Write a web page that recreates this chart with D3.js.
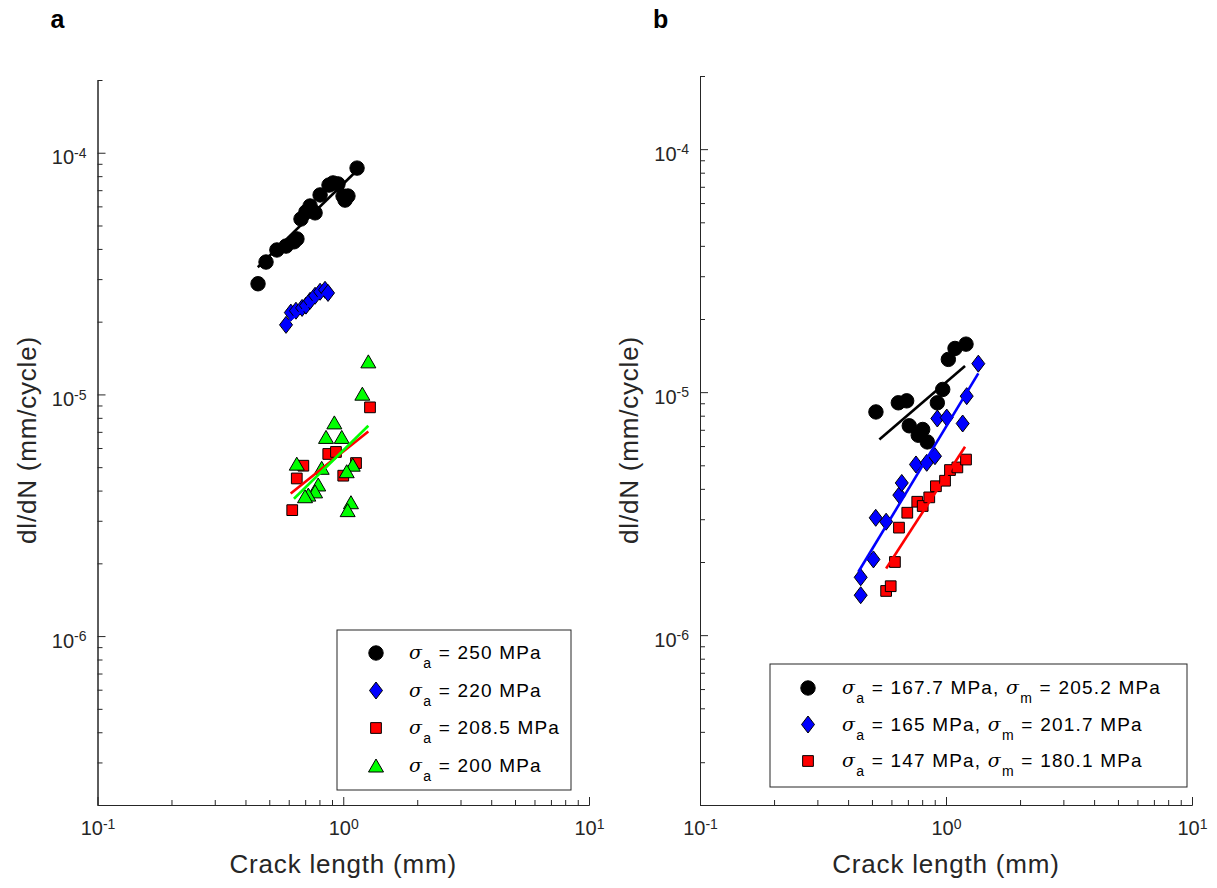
<!DOCTYPE html>
<html lang="en">
<head>
  <meta charset="UTF-8" />
  <title>Crack growth rate vs crack length</title>
  <style>
    body { margin: 0; background: #fff; font-family: "Liberation Sans", Arial, sans-serif; }
    .axis path, .axis line { stroke: #262626; stroke-width: 1; }
    .axis text { fill: #262626; font-size: 20px; font-family: "Liberation Sans", Arial, sans-serif; }
  </style>
</head>
<body>
  <div id="chart"></div>
  <script src="https://d3js.org/d3.v7.min.js"></script>
  <script>
    // ---- panel a data (crack length mm, dl/dN mm/cycle) ----
    var a250X = [0.450, 0.485, 0.537, 0.585, 0.630, 0.648, 0.673, 0.705, 0.733, 0.768, 0.805, 0.875, 0.909, 0.952, 0.998, 1.045, 1.017, 1.138];
    var a250Y = [2.87e-5, 3.53e-5, 3.96e-5, 4.11e-5, 4.28e-5, 4.40e-5, 5.32e-5, 5.69e-5, 6.02e-5, 5.64e-5, 6.69e-5, 7.35e-5, 7.50e-5, 7.43e-5, 6.62e-5, 6.62e-5, 6.37e-5, 8.64e-5];
    var a220X = [0.585, 0.612, 0.642, 0.680, 0.705, 0.733, 0.768, 0.805, 0.843, 0.867];
    var a220Y = [1.94e-5, 2.18e-5, 2.22e-5, 2.28e-5, 2.33e-5, 2.44e-5, 2.56e-5, 2.66e-5, 2.71e-5, 2.63e-5];
    var a208X = [0.620, 0.647, 0.688, 0.869, 0.934, 1.000, 1.127, 1.285];
    var a208Y = [3.32e-6, 4.49e-6, 5.07e-6, 5.67e-6, 5.78e-6, 4.61e-6, 5.20e-6, 8.84e-6];
    var a200X = [1.265, 1.196, 0.920, 0.851, 0.986, 0.647, 0.817, 1.093, 1.033, 0.791, 0.768, 0.721, 0.699, 1.075, 1.042];
    var a200Y = [1.37e-5, 1.007e-5, 7.66e-6, 6.67e-6, 6.67e-6, 5.17e-6, 4.97e-6, 5.12e-6, 4.81e-6, 4.24e-6, 3.97e-6, 3.85e-6, 3.79e-6, 3.58e-6, 3.32e-6];
    // fitted lines, end points
    var aFit250X = [0.449, 1.134], aFit250Y = [3.36e-5, 8.42e-5];
    var aFit220X = [0.595, 0.861], aFit220Y = [2.00e-5, 2.68e-5];
    var aFit208X = [0.611, 1.265], aFit208Y = [3.89e-6, 7.03e-6];
    var aFit200X = [0.630, 1.265], aFit200Y = [3.70e-6, 7.42e-6];

    // ---- panel b data ----
    var b167X = [0.519, 0.640, 0.692, 0.709, 0.804, 0.771, 0.839, 0.922, 0.970, 1.022, 1.088, 1.206];
    var b167Y = [8.29e-6, 9.04e-6, 9.21e-6, 7.27e-6, 7.02e-6, 6.65e-6, 6.24e-6, 9.04e-6, 1.026e-5, 1.364e-5, 1.513e-5, 1.576e-5];
    var b165X = [0.450, 0.450, 0.507, 0.571, 0.518, 0.646, 0.661, 0.755, 0.835, 0.902, 0.922, 1.007, 1.169, 1.214, 1.353];
    var b165Y = [1.46e-6, 1.73e-6, 2.05e-6, 2.93e-6, 3.04e-6, 3.77e-6, 4.23e-6, 5.04e-6, 5.12e-6, 5.45e-6, 7.79e-6, 7.86e-6, 7.43e-6, 9.63e-6, 1.31e-5];
    var b147X = [0.571, 0.596, 0.620, 0.644, 0.696, 0.764, 0.804, 0.855, 0.910, 0.991, 1.038, 1.112, 1.206];
    var b147Y = [1.52e-6, 1.59e-6, 2.00e-6, 2.77e-6, 3.19e-6, 3.54e-6, 3.40e-6, 3.69e-6, 4.10e-6, 4.32e-6, 4.78e-6, 4.90e-6, 5.28e-6];
    var bFit167X = [0.536, 1.195], bFit167Y = [6.39e-6, 1.28e-5];
    var bFit165X = [0.440, 1.353], bFit165Y = [1.82e-6, 1.194e-5];
    var bFit147X = [0.571, 1.195], bFit147Y = [1.88e-6, 5.96e-6];

    // ---- tick labels / legend text ----
    var xMajor = [0.1, 1, 10], xExp = ["-1", "0", "1"];
    var yMajor = [1e-4, 1e-5, 1e-6], yExp = ["-4", "-5", "-6"];
    var legendA = [
      [["σ", "a", " = 250 MPa"]],
      [["σ", "a", " = 220 MPa"]],
      [["σ", "a", " = 208.5 MPa"]],
      [["σ", "a", " = 200 MPa"]]
    ];
    var legendB = [
      [["σ", "a", " = 167.7 MPa, "], ["σ", "m", " = 205.2 MPa"]],
      [["σ", "a", " = 165 MPa, "], ["σ", "m", " = 201.7 MPa"]],
      [["σ", "a", " = 147 MPa, "], ["σ", "m", " = 180.1 MPa"]]
    ];

    var svg = d3.select("#chart").append("svg")
      .attr("width", 1217).attr("height", 888);

    // marker shapes
    function markerPath(type) {
      if (type === "circle") return d3.symbol(d3.symbolCircle, Math.PI * 52)();
      if (type === "square") return d3.symbol(d3.symbolSquare, 115)();
      if (type === "diamond") return "M0,-8.5L6.5,0L0,8.5L-6.5,0Z";
      return "M0,-6.5L7.5,6.5L-7.5,6.5Z"; // triangle
    }
    var styles = {
      black: {type: "circle", fill: "#000", stroke: "#000", line: "#000"},
      blue: {type: "diamond", fill: "#0000ff", stroke: "#000", line: "#0000ff"},
      red: {type: "square", fill: "#ff0000", stroke: "#000", line: "#ff0000"},
      green: {type: "triangle", fill: "#00ff00", stroke: "#000", line: "#00ff00"}
    };

    function zip(xs, ys) { return xs.map(function(v, i) { return [v, ys[i]]; }); }

    function drawPanel(p) {
      var x = d3.scaleLog().domain([0.1, 10]).range(p.xr);
      var y = d3.scaleLog().domain([2e-7, 2e-4]).range(p.yr);
      var g = svg.append("g");

      // minor ticks
      var xMinor = [], yMinor = [];
      [0.1, 1].forEach(function(d) { for (var k = 2; k <= 9; k++) xMinor.push(d * k); });
      [1e-7, 1e-6, 1e-5, 1e-4].forEach(function(d) { for (var k = 2; k <= 9; k++) { var v = d * k; if (v >= 2e-7 && v <= 2e-4) yMinor.push(v); } });

      g.append("g").attr("class", "axis").attr("transform", "translate(0," + p.yr[0] + ")")
        .call(d3.axisBottom(x).tickValues(xMinor).tickSize(-5).tickSizeOuter(0).tickFormat(""));
      var gx = g.append("g").attr("class", "axis").attr("transform", "translate(0," + p.yr[0] + ")")
        .call(d3.axisBottom(x).tickValues(xMajor).tickSize(-8).tickSizeOuter(0).tickPadding(16).tickFormat(""));
      gx.selectAll(".tick text").each(function(d, i) {
        var t = d3.select(this);
        t.append("tspan").text("10");
        t.append("tspan").attr("dy", "-0.45em").attr("font-size", "14px").text(xExp[i]);
      });

      g.append("g").attr("class", "axis").attr("transform", "translate(" + p.xr[0] + ",0)")
        .call(d3.axisLeft(y).tickValues(yMinor).tickSize(-5).tickSizeOuter(0).tickFormat(""));
      var gy = g.append("g").attr("class", "axis").attr("transform", "translate(" + p.xr[0] + ",0)")
        .call(d3.axisLeft(y).tickValues(yMajor).tickSize(-8).tickSizeOuter(0).tickPadding(11).tickFormat(""));
      gy.selectAll(".tick text").attr("dy", "0.55em").each(function(d, i) {
        var t = d3.select(this);
        t.append("tspan").text("10");
        t.append("tspan").attr("dy", "-0.45em").attr("font-size", "14px").text(yExp[i]);
      });

      // axis titles
      var xm = (p.xr[0] + p.xr[1]) / 2;
      g.append("text").attr("x", xm).attr("y", 873).attr("text-anchor", "middle")
        .attr("font-size", "26px").attr("letter-spacing", "0.8px").attr("fill", "#262626").text("Crack length (mm)");
      g.append("text").attr("transform", "translate(" + (p.xr[0] - 62) + "," + 440 + ") rotate(-90)")
        .attr("text-anchor", "middle").attr("font-size", "26px").attr("letter-spacing", "0.8px")
        .attr("fill", "#262626").text("dl/dN (mm/cycle)");
      g.append("text").attr("x", p.xr[0] - 47).attr("y", 28).attr("font-size", "25px")
        .attr("font-weight", "bold").attr("fill", "#000").text(p.letter);

      // markers
      p.series.forEach(function(s) {
        var st = styles[s.style];
        g.append("g").selectAll("path").data(zip(s.x, s.y)).enter().append("path")
          .attr("d", markerPath(st.type))
          .attr("transform", function(d) { return "translate(" + x(d[0]) + "," + y(d[1]) + ")"; })
          .attr("fill", st.fill).attr("stroke", st.stroke).attr("stroke-width", 1);
      });
      // fit lines
      var line = d3.line().x(function(d) { return x(d[0]); }).y(function(d) { return y(d[1]); });
      p.series.forEach(function(s) {
        g.append("path").datum(zip(s.fx, s.fy)).attr("d", line)
          .attr("fill", "none").attr("stroke", styles[s.style].line).attr("stroke-width", 2.6);
      });

      // legend
      var L = p.legend;
      g.append("rect").attr("x", L.x).attr("y", L.y).attr("width", L.w).attr("height", L.h)
        .attr("fill", "#fff").attr("stroke", "#262626").attr("stroke-width", 1);
      p.series.forEach(function(s, i) {
        var st = styles[s.style];
        var cy = L.y + L.first + i * L.step;
        g.append("path").attr("d", markerPath(st.type))
          .attr("transform", "translate(" + (L.x + L.mx) + "," + cy + ")")
          .attr("fill", st.fill).attr("stroke", st.stroke);
        var t = g.append("text").attr("x", L.x + L.tx).attr("y", cy + 6)
          .attr("font-size", "19px").attr("letter-spacing", "1.2px").attr("fill", "#000");
        L.labels[i].forEach(function(part) {
          t.append("tspan").attr("font-style", "italic").attr("font-family", "'DejaVu Serif', serif").attr("font-size", "19px").text(part[0]);
          t.append("tspan").attr("dy", "9").attr("font-size", "14px").text(part[1]);
          t.append("tspan").attr("dy", "-9").text(part[2]);
        });
      });
    }

    drawPanel({
      letter: "a", xr: [97.5, 589], yr: [805, 80],
      series: [
        {style: "black", x: a250X, y: a250Y, fx: aFit250X, fy: aFit250Y},
        {style: "blue", x: a220X, y: a220Y, fx: aFit220X, fy: aFit220Y},
        {style: "red", x: a208X, y: a208Y, fx: aFit208X, fy: aFit208Y},
        {style: "green", x: a200X, y: a200Y, fx: aFit200X, fy: aFit200Y}
      ],
      legend: {x: 337, y: 630, w: 234, h: 160, first: 23, step: 37.5, mx: 39, tx: 72, labels: legendA}
    });
    drawPanel({
      letter: "b", xr: [700, 1192], yr: [805, 76],
      series: [
        {style: "black", x: b167X, y: b167Y, fx: bFit167X, fy: bFit167Y},
        {style: "blue", x: b165X, y: b165Y, fx: bFit165X, fy: bFit165Y},
        {style: "red", x: b147X, y: b147Y, fx: bFit147X, fy: bFit147Y}
      ],
      legend: {x: 770, y: 664, w: 417, h: 123, first: 24, step: 36.5, mx: 38, tx: 72, labels: legendB}
    });
  </script>
</body>
</html>
